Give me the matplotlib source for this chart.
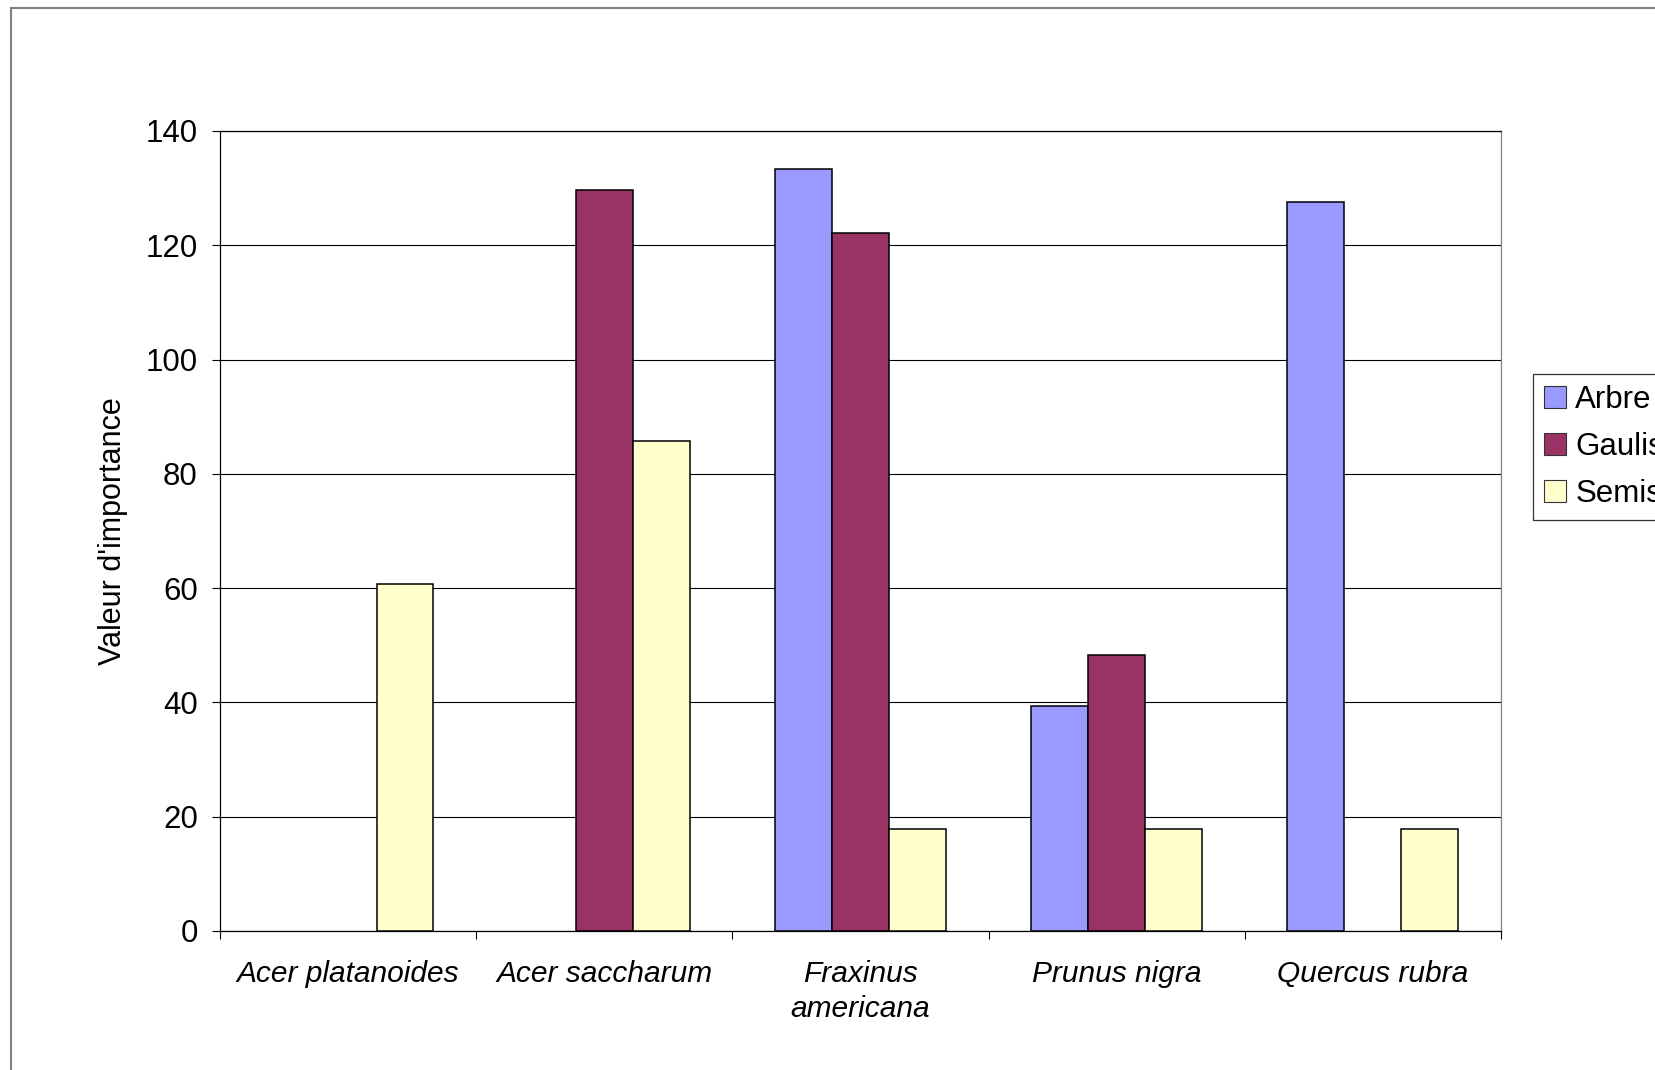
import numpy as np
import matplotlib
matplotlib.use('Agg')
import matplotlib.pyplot as plt
from matplotlib.patches import Rectangle

species = ['Acer platanoides', 'Acer saccharum', 'Fraxinus\namericana',
           'Prunus nigra', 'Quercus rubra']
series = ['Arbre', 'Gaulis', 'Semis']
arbre  = [np.nan, np.nan, 133.3, 39.3, 127.6]
gaulis = [np.nan, 129.6, 122.2, 48.3, np.nan]
semis  = [60.7, 85.7, 17.8, 17.8, 17.8]
yticks = [0, 20, 40, 60, 80, 100, 120, 140]

COLORS = ['#9999FF', '#993366', '#FFFFCC']

plt.rcParams['font.family'] = ['Liberation Sans', 'DejaVu Sans']

fig = plt.figure(figsize=(16.56, 10.70), dpi=100)
ax = fig.add_axes([220 / 1656, 1 - 931 / 1070, 1281 / 1656, 800 / 1070])

# outer chart border (cut off on the right and bottom)
fig.patches.append(Rectangle((11 / 1656, -0.2), 2.0, 1.2 - 8 / 1070,
                             transform=fig.transFigure, fill=False,
                             edgecolor='#808080', linewidth=1.5, zorder=0))

x = np.arange(len(species))
w = 1 / 4.5
for i, (name, vals, col) in enumerate(zip(series, [arbre, gaulis, semis], COLORS)):
    vals = np.array(vals, dtype=float)
    keep = ~np.isnan(vals)
    ax.bar(x[keep] + (i - 1) * w, vals[keep], width=w, color=col,
           edgecolor='black', linewidth=1.1, zorder=3, label=name)

ax.set_xlim(-0.5, len(species) - 0.5)
ax.set_ylim(0, 140)
ax.set_yticks(yticks)
ax.yaxis.grid(True, color='black', linewidth=0.8, zorder=1)
ax.set_axisbelow(True)

ax.set_xticks(np.arange(len(species) + 1) - 0.5)
ax.set_xticklabels([])
ax.set_xticks(x, minor=True)
ax.set_xticklabels(species, minor=True, style='italic', fontsize=21.5,
                   linespacing=1.3)
ax.tick_params(axis='x', which='minor', length=0, pad=21)
ax.tick_params(axis='x', which='major', length=6, width=0.8, direction='out')
ax.tick_params(axis='y', length=6, width=0.8, direction='out', pad=10,
               labelsize=22.5)

ax.spines['right'].set_color('#808080')
for s in ['left', 'bottom', 'top']:
    ax.spines[s].set_color('black')
for s in ax.spines.values():
    s.set_linewidth(0.9)

ax.set_ylabel("Valeur d'importance", fontsize=22)
ax.yaxis.set_label_coords(-0.072, 0.5)

leg = fig.legend(loc='upper left', bbox_to_anchor=(1533 / 1656, 1 - 374 / 1070),
                 fontsize=22.5, frameon=True, fancybox=False, shadow=False,
                 handlelength=0.7, handleheight=0.7, handletextpad=0.3,
                 labelspacing=0.55, borderpad=0.35, borderaxespad=0)
leg.get_frame().set_edgecolor('black')
leg.get_frame().set_linewidth(0.9)
for h in leg.legend_handles:
    h.set_edgecolor('#333333')
    h.set_linewidth(0.8)

fig.savefig('out.png', dpi=100, facecolor='white')
